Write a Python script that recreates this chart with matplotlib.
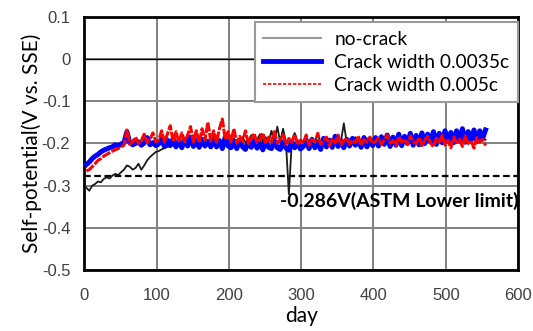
import numpy as np
import matplotlib
matplotlib.use("Agg")
import matplotlib.pyplot as plt
from matplotlib.lines import Line2D

# Sampled days (every 4 days)
days = np.arange(3, 556, 4)

# no-crack
noCrack = [
    -0.305, -0.312, -0.300, -0.296, -0.290, -0.292, -0.284, -0.280, -0.283, -0.276,
    -0.272, -0.275, -0.268, -0.262, -0.252, -0.255, -0.262, -0.258, -0.248, -0.262,
    -0.252, -0.240, -0.232, -0.226, -0.220,
    -0.218, -0.214, -0.211, -0.208, -0.206, -0.205, -0.203, -0.202, -0.200, -0.199,
    -0.201, -0.198, -0.200, -0.197, -0.199, -0.196, -0.198, -0.195, -0.197, -0.193,
    -0.196, -0.194, -0.197, -0.190, -0.196,
    -0.195, -0.188, -0.196, -0.193, -0.185, -0.197, -0.194, -0.180, -0.196, -0.192,
    -0.178, -0.195, -0.185, -0.196, -0.170, -0.197, -0.160, -0.196, -0.165, -0.197,
    -0.320, -0.198, -0.175, -0.196, -0.192,
    -0.197, -0.185, -0.199, -0.190, -0.196, -0.178, -0.198, -0.194, -0.188, -0.197,
    -0.192, -0.198, -0.182, -0.196, -0.152, -0.197, -0.190, -0.198, -0.185, -0.196,
    -0.193, -0.198, -0.188, -0.195, -0.197,
    -0.196, -0.192, -0.197, -0.188, -0.195, -0.193, -0.197, -0.190, -0.195, -0.196,
    -0.189, -0.194, -0.196, -0.191, -0.194, -0.195, -0.188, -0.193, -0.195, -0.190,
    -0.193, -0.194, -0.189, -0.192, -0.194,
    -0.190, -0.193, -0.188, -0.192, -0.190, -0.193, -0.187, -0.191, -0.190, -0.192,
    -0.188, -0.190, -0.189, -0.191,
]

# Crack width 0.0035c
crack35 = [
    -0.250, -0.244, -0.236, -0.230, -0.226, -0.220, -0.216, -0.213, -0.210, -0.208,
    -0.203, -0.206, -0.201, -0.198, -0.172,
    -0.198, -0.203, -0.200, -0.196, -0.204, -0.199, -0.186, -0.203, -0.198, -0.205,
    -0.201, -0.190, -0.207, -0.192, -0.205, -0.188, -0.208, -0.194, -0.210, -0.190,
    -0.206, -0.185, -0.207, -0.193, -0.209, -0.190, -0.206, -0.195, -0.208, -0.189,
    -0.208, -0.193, -0.212, -0.185, -0.206,
    -0.210, -0.195, -0.212, -0.193, -0.208, -0.214, -0.196, -0.209, -0.192, -0.211,
    -0.198, -0.215, -0.195, -0.209, -0.212, -0.194, -0.210, -0.214, -0.196, -0.211,
    -0.216, -0.195, -0.210, -0.198, -0.213,
    -0.207, -0.193, -0.212, -0.190, -0.210, -0.196, -0.214, -0.188, -0.208, -0.192,
    -0.209, -0.183, -0.207, -0.193, -0.210, -0.190, -0.206, -0.188, -0.204, -0.192,
    -0.209, -0.186, -0.208, -0.190, -0.205,
    -0.186, -0.206, -0.184, -0.202, -0.180, -0.207, -0.185, -0.204, -0.178, -0.205,
    -0.183, -0.200, -0.176, -0.204, -0.181, -0.203, -0.175, -0.200, -0.178, -0.196,
    -0.172, -0.202, -0.176, -0.198, -0.170,
    -0.195, -0.174, -0.198, -0.170, -0.194, -0.165, -0.197, -0.172, -0.190, -0.168,
    -0.195, -0.170, -0.188, -0.168,
]

# Crack width 0.005c
crack5 = [
    -0.265, -0.262, -0.255, -0.248, -0.240, -0.236, -0.230, -0.226, -0.222, -0.218,
    -0.215, -0.212, -0.208, -0.204, -0.168,
    -0.202, -0.196, -0.185, -0.200, -0.193, -0.178, -0.198, -0.190, -0.175, -0.196,
    -0.192, -0.170, -0.197, -0.178, -0.158, -0.195, -0.172, -0.198, -0.175, -0.196,
    -0.180, -0.160, -0.196, -0.170, -0.198, -0.165, -0.192, -0.150, -0.194, -0.170,
    -0.197, -0.165, -0.142, -0.190, -0.172,
    -0.196, -0.165, -0.199, -0.183, -0.195, -0.170, -0.200, -0.188, -0.176, -0.198,
    -0.190, -0.175, -0.201, -0.185, -0.196, -0.172, -0.199, -0.190, -0.180, -0.202,
    -0.188, -0.197, -0.178, -0.203, -0.192,
    -0.198, -0.180, -0.204, -0.190, -0.197, -0.176, -0.202, -0.193, -0.185, -0.205,
    -0.190, -0.199, -0.180, -0.203, -0.194, -0.187, -0.201, -0.192, -0.198, -0.182,
    -0.204, -0.191, -0.196, -0.185, -0.200,
    -0.195, -0.187, -0.202, -0.191, -0.180, -0.199, -0.193, -0.205, -0.184, -0.197,
    -0.190, -0.203, -0.182, -0.196, -0.200, -0.186, -0.205, -0.192, -0.183, -0.199,
    -0.208, -0.188, -0.196, -0.181, -0.204,
    -0.192, -0.210, -0.185, -0.198, -0.190, -0.207, -0.182, -0.200, -0.193, -0.211,
    -0.186, -0.197, -0.190, -0.205,
]

seriesLabels = ["no-crack", "Crack width 0.0035c", "Crack width 0.005c"]
astmLimit = -0.278
astmText  = "-0.286V(ASTM Lower limit)"
xTicks = [0, 100, 200, 300, 400, 500, 600]
yTicks = [0.1, 0, -0.1, -0.2, -0.3, -0.4, -0.5]
yTickLabels = ["0.1", "0", "-0.1", "-0.2", "-0.3", "-0.4", "-0.5"]

# Figure
fig = plt.figure(figsize=(5.33, 3.31), dpi=100)
ax  = fig.add_axes([0.158, 0.184, 0.814, 0.765])

ax.plot(days, noCrack, color="#1a1a1a", lw=1.3, zorder=3)
ax.plot(days, crack35, color="#0000ff", lw=3.6, zorder=4)
ax.plot(days, crack5,  color="#ff0000", lw=2.2, ls=(0, (3, 0.5)), zorder=5)

# ASTM limit line
ax.axhline(astmLimit, color="black", lw=1.6, ls=(0, (3, 1.6)), zorder=2)
ax.text(601, -0.336, astmText, ha="right", va="center",
        fontsize=14, fontweight="bold", family="Lato", zorder=6)

# Axes
ax.set_xlim(0, 600)
ax.set_ylim(-0.5, 0.1)
ax.set_xticks(xTicks)
ax.set_yticks(yTicks)
ax.set_yticklabels(yTickLabels)
ax.tick_params(length=0, labelsize=12, colors="#404040")
ax.tick_params(axis="x", pad=13)
ax.tick_params(axis="y", pad=10)
for lbl in ax.get_xticklabels() + ax.get_yticklabels():
    lbl.set_family("Liberation Sans")

ax.grid(True, color="#808080", lw=1.4, zorder=1)
ax.set_axisbelow(True)
ax.axhline(0, color="black", lw=1.0, zorder=1.5)
for sp in ax.spines.values():
    sp.set_linewidth(2.0)
    sp.set_color("black")

ax.set_xlabel("day", fontsize=15, family="Lato", labelpad=2)
ax.set_ylabel("Self-potential(V vs. SSE)", fontsize=15, family="Lato", labelpad=0)

# Legend with proxy handles
handles = [Line2D([], [], color="#999999", lw=1.5),
           Line2D([], [], color="#0000ff", lw=3.5),
           Line2D([], [], color="#ff0000", lw=1.2, ls=(0, (2, 1)))]
leg = ax.legend(handles, seriesLabels, loc="upper right",
                bbox_to_anchor=(1.0, 0.98), borderaxespad=0,
                prop={"family": "Lato", "size": 13.8},
                fancybox=False, framealpha=1, edgecolor="#999999",
                handlelength=3.0, handletextpad=0.7, labelspacing=0.32,
                borderpad=0.45)
leg.get_frame().set_linewidth(1.5)
leg.set_zorder(10)

fig.savefig("out.png", dpi=100)
